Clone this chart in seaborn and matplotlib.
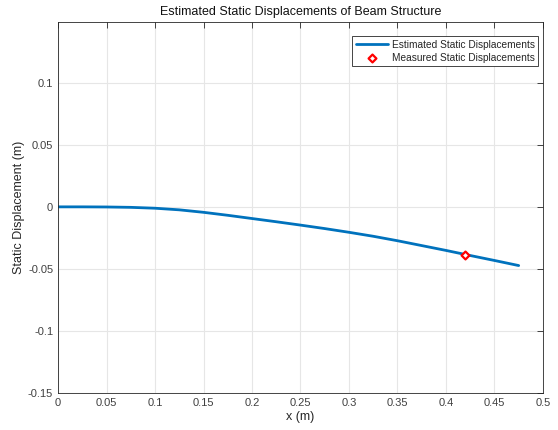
import matplotlib
matplotlib.use("Agg")
import matplotlib.pyplot as plt
import seaborn as sns
import pandas as pd

x_est = [0.0, 0.025, 0.05, 0.075, 0.1, 0.125, 0.15, 0.175, 0.2, 0.225, 0.25,
         0.275, 0.3, 0.325, 0.35, 0.375, 0.4, 0.425, 0.45, 0.475]
y_est = [0.0, 0.0, -0.0001, -0.0004, -0.0011, -0.0024, -0.0044, -0.0068, -0.0094,
         -0.0120, -0.0147, -0.0175, -0.0205, -0.0237, -0.0273, -0.0312, -0.0351,
         -0.0392, -0.0432, -0.0473]
x_meas = [0.42]
y_meas = [-0.0385]
x_ticks = [0, 0.05, 0.1, 0.15, 0.2, 0.25, 0.3, 0.35, 0.4, 0.45, 0.5]
x_tick_labels = ["0", "0.05", "0.1", "0.15", "0.2", "0.25", "0.3", "0.35", "0.4", "0.45", "0.5"]
y_ticks = [-0.15, -0.1, -0.05, 0, 0.05, 0.1]
y_tick_labels = ["-0.15", "-0.1", "-0.05", "0", "0.05", "0.1"]

sns.set_style("white")
plt.rcParams['font.family'] = ['Liberation Sans', 'DejaVu Sans']

fig = plt.figure(figsize=(5.58, 4.30), dpi=100)
ax = fig.add_axes([0.104, 0.086, 0.869, 0.863])

df_est = pd.DataFrame({"x": x_est, "y": y_est})
df_meas = pd.DataFrame({"x": x_meas, "y": y_meas})

sns.lineplot(data=df_est, x="x", y="y", ax=ax, color="#0072BD", linewidth=2,
             label="Estimated Static Displacements")
sns.scatterplot(data=df_meas, x="x", y="y", ax=ax, marker="D", s=16,
                facecolor="white", edgecolor="#FF0000", linewidth=1.6,
                label="Measured Static Displacements", zorder=5)

ax.set_xlim(0, 0.5)
ax.set_ylim(-0.15, 0.149)
ax.set_xticks(x_ticks)
ax.set_xticklabels(x_tick_labels)
ax.set_yticks(y_ticks)
ax.set_yticklabels(y_tick_labels)
ax.grid(True, color="#E6E6E6", linewidth=0.8)
ax.tick_params(direction="in", length=4, colors="#262626", labelsize=8,
               top=True, right=True, labelcolor="#404040", width=0.6)
for s in ax.spines.values():
    s.set_color("#262626")
    s.set_linewidth(0.6)

ax.set_xlabel("x (m)", fontsize=9, color="#262626", labelpad=2)
ax.set_ylabel("Static Displacement (m)", fontsize=9, color="#262626", labelpad=2)
ax.set_title("Estimated Static Displacements of Beam Structure", fontsize=9, pad=5,
             color="#111111")

leg = ax.legend(loc="upper right", bbox_to_anchor=(0.990, 0.962), fontsize=7.3,
                frameon=True, fancybox=False, edgecolor="#262626", framealpha=1,
                borderpad=0.35, handlelength=3.2, labelspacing=0.3,
                borderaxespad=0.0, handletextpad=0.35)
leg.get_frame().set_linewidth(0.6)
for t in leg.get_texts():
    t.set_color("#262626")

fig.savefig("out.png", dpi=100)
